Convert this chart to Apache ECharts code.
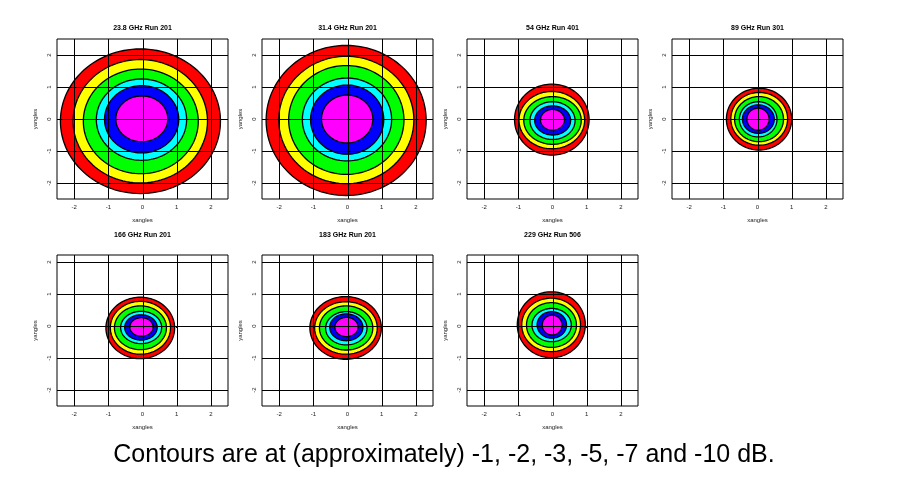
<!DOCTYPE html>
<html>
<head>
<meta charset="utf-8">
<script src="https://cdn.jsdelivr.net/npm/echarts@6.0.0/dist/echarts.min.js"></script>
<style>
html,body{margin:0;padding:0;background:#fff;}
#c{width:900px;height:485px;}
</style>
</head>
<body>
<div id="c"></div>
<script>
// ---- data ----
const titles = ['23.8 GHz Run 201', '31.4 GHz Run 201', '54 GHz Run 401', '89 GHz Run 301',
                '166 GHz Run 201', '183 GHz Run 201', '229 GHz Run 506'];
const xTicks = [-2, -1, 0, 1, 2];
const yTicks = [-2, -1, 0, 1, 2];
const levels = [-10, -7, -5, -3, -2, -1]; // dB, outer to inner
const caption = 'Contours are at (approximately) -1, -2, -3, -5, -7 and -10 dB.';
// contour extents [xmin, xmax, ymin, ymax], outer (-10 dB) to inner (-1 dB)
const f238 = [[-2.40, 2.28, -2.33, 2.19], [-2.03, 1.90, -2.00, 1.86], [-1.73, 1.63, -1.71, 1.56],
              [-1.35, 1.29, -1.29, 1.25], [-1.11, 1.06, -1.06, 1.04], [-0.78, 0.74, -0.71, 0.72]];
const f314 = [[-2.38, 2.30, -2.39, 2.30], [-2.01, 1.94, -2.02, 1.96], [-1.72, 1.65, -1.73, 1.67],
              [-1.32, 1.29, -1.31, 1.28], [-1.08, 1.06, -1.10, 1.06], [-0.76, 0.74, -0.75, 0.75]];
const f54  = [[-1.11, 1.07, -1.13, 1.09], [-0.98, 0.94, -0.93, 0.86], [-0.84, 0.84, -0.79, 0.70],
              [-0.66, 0.66, -0.64, 0.54], [-0.52, 0.53, -0.50, 0.41], [-0.35, 0.35, -0.35, 0.30]];
const f89  = [[-0.91, 1.00, -0.97, 0.96], [-0.78, 0.88, -0.82, 0.83], [-0.67, 0.76, -0.71, 0.70],
              [-0.53, 0.57, -0.56, 0.54], [-0.44, 0.49, -0.45, 0.44], [-0.31, 0.34, -0.35, 0.34]];
const f166 = [[-1.07, 0.94, -1.02, 0.90], [-0.94, 0.82, -0.88, 0.77], [-0.82, 0.70, -0.74, 0.63],
              [-0.64, 0.56, -0.55, 0.46], [-0.52, 0.43, -0.44, 0.35], [-0.37, 0.31, -0.32, 0.26]];
const f183 = [[-1.10, 0.99, -1.04, 0.92], [-0.96, 0.87, -0.88, 0.76], [-0.82, 0.74, -0.75, 0.63],
              [-0.64, 0.57, -0.59, 0.45], [-0.52, 0.45, -0.46, 0.38], [-0.37, 0.31, -0.33, 0.27]];
const f229 = [[-1.03, 0.96, -0.99, 1.07], [-0.90, 0.82, -0.80, 0.87], [-0.76, 0.70, -0.67, 0.73],
              [-0.60, 0.55, -0.49, 0.55], [-0.45, 0.41, -0.38, 0.45], [-0.30, 0.28, -0.28, 0.34]];
const panels = [f238, f314, f54, f89, f166, f183, f229];
const xRange = [-2.5, 2.5];
const yRangeTop = [-2.5, 2.5];
const yRangeBottom = [-2.5, 2.22];

// ---- styles / layout ----
const fills = ['#FF0000', '#FFFF00', '#00FF00', '#00FFFF', '#0000FF', '#FF00FF'];
const FONT = 'Liberation Sans, Arial, Helvetica, sans-serif';
const lefts = [57, 262, 467, 672, 57, 262, 467];
const tops  = [39, 39, 39, 39, 255, 255, 255];
const W = 171;
const heights = [160, 160, 160, 160, 151, 151, 151];
const titleTops = [25, 25, 25, 25, 232, 232, 232];

const chart = echarts.init(document.getElementById('c'), null, {renderer: 'canvas'});

const grid = [], xAxis = [], yAxis = [], series = [], title = [];
panels.forEach((p, i) => {
  const yr = i < 4 ? yRangeTop : yRangeBottom;
  grid.push({left: lefts[i], top: tops[i], width: W, height: heights[i],
             show: true, borderColor: '#000', borderWidth: 1, backgroundColor: '#fff'});
  title.push({text: titles[i], left: lefts[i] + W / 2, top: titleTops[i], textAlign: 'center', padding: 0,
              textStyle: {fontSize: 7, fontWeight: 'bold', fontFamily: FONT, color: '#000'}});
  xAxis.push({gridIndex: i, type: 'value', min: xRange[0], max: xRange[1],
    axisLine: {show: false}, splitLine: {show: false},
    axisTick: {show: true, customValues: xTicks, length: 2, lineStyle: {color: '#000'}},
    axisLabel: {customValues: xTicks, fontSize: 6, margin: 5, color: '#222', fontFamily: FONT},
    name: 'xangles', nameLocation: 'middle', nameGap: 18,
    nameTextStyle: {fontSize: 6, color: '#222', fontFamily: FONT}});
  yAxis.push({gridIndex: i, type: 'value', min: yr[0], max: yr[1],
    axisLine: {show: false}, splitLine: {show: false},
    axisTick: {show: true, customValues: yTicks, length: 2, lineStyle: {color: '#000'}},
    axisLabel: {customValues: yTicks, fontSize: 6, margin: 5, rotate: 90, color: '#222', fontFamily: FONT},
    name: 'yangles', nameLocation: 'middle', nameGap: 19,
    nameTextStyle: {fontSize: 6, color: '#222', fontFamily: FONT}});
  // filled contour ellipses
  series.push({type: 'custom', xAxisIndex: i, yAxisIndex: i, z: 2, silent: true,
    data: p.map((e, k) => [e[0], e[1], e[2], e[3], k]),
    renderItem: function (params, api) {
      const x0 = api.value(0), x1 = api.value(1), y0 = api.value(2), y1 = api.value(3);
      const k = api.value(4);
      const cx = (x0 + x1) / 2, cy = (y0 + y1) / 2, rx = (x1 - x0) / 2, ry = (y1 - y0) / 2;
      const pts = [];
      for (let a = 0; a < 120; a++) {
        const t = a / 120 * Math.PI * 2;
        pts.push(api.coord([cx + rx * Math.cos(t), cy + ry * Math.sin(t)]));
      }
      return {type: 'polygon', shape: {points: pts},
              style: {fill: fills[k], stroke: '#000', lineWidth: 1.3}};
    }});
  // grid lines on top of the contours
  const gl = xTicks.map(t => [0, t]).concat(yTicks.map(t => [1, t]));
  series.push({type: 'custom', xAxisIndex: i, yAxisIndex: i, z: 3, silent: true,
    data: gl,
    renderItem: function (params, api) {
      const cs = params.coordSys;
      const kind = api.value(0), t = api.value(1);
      let shape;
      if (kind === 0) {
        const x = Math.round(api.coord([t, 0])[0]) + 0.5;
        shape = {x1: x, y1: cs.y, x2: x, y2: cs.y + cs.height};
      } else {
        const y = Math.round(api.coord([0, t])[1]) + 0.5;
        shape = {x1: cs.x, y1: y, x2: cs.x + cs.width, y2: y};
      }
      return {type: 'line', shape: shape, style: {stroke: '#000', lineWidth: 1}};
    }});
});
title.push({text: caption, left: 444, top: 443, textAlign: 'center', padding: 0,
            textStyle: {fontSize: 25, fontWeight: 'normal', fontFamily: FONT, color: '#000'}});

chart.setOption({animation: false, backgroundColor: '#fff', title, grid, xAxis, yAxis, series});
</script>
</body>
</html>
